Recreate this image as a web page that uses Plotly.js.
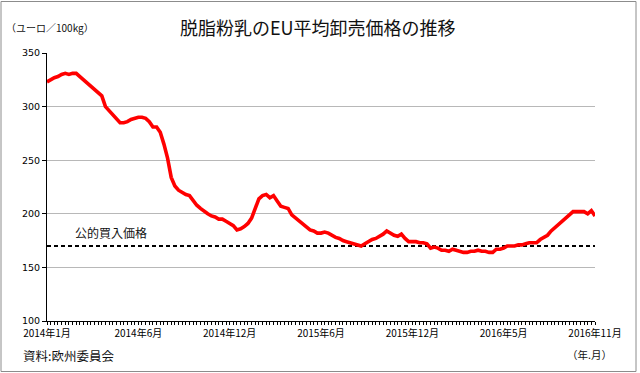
<!DOCTYPE html>
<html>
<head>
<meta charset="utf-8">
<script src="https://cdn.plot.ly/plotly-3.0.1.min.js"></script>
<style>
html,body{margin:0;padding:0;background:#fff;}
#chart{width:640px;height:373px;}
</style>
</head>
<body>
<div id="chart"></div>
<script>
// Weekly EU average wholesale price of skimmed milk powder (EUR/100kg), Jan 2014 - Nov 2016
const weekIndex = [];
const prices = [
  323,325,327,328,330,331,330,331,331,328,
  325,323,320,317,314,310,300,296,292,288,
  285,285,286,288,289,290,290,289,286,281,
  281,276,265,252,234,226,222,220,218,217,
  212,208,205,202,200,198,197,195,195,193,
  191,189,185,186,188,191,196,205,214,217,
  218,215,217,212,207,206,205,199,196,193,
  190,187,185,184,182,182,183,182,180,178,
  177,175,174,173,172,171,170,172,174,176,
  177,179,181,184,182,180,179,181,177,174,
  174,174,173,173,172,168,169,168,166,166,
  165,167,166,165,164,164,165,165,166,165,
  165,164,164,167,167,168,170,170,170,171,
  171,172,173,173,173,176,178,180,184,187,
  190,193,196,199,202,202,202,202,200,203,
  198
];
for (let i = 0; i < prices.length; i++) weekIndex.push(i);

const tickPositions = [0, 25, 50, 75, 100, 125, 150];
const tickLabels = ['2014年1月','2014年6月','2014年12月','2015年6月','2015年12月','2016年5月','2016年11月'];
const purchasePrice = 170;
const purchaseSpan = [0, 150];

const jp = '"Noto Sans CJK JP", "Noto Sans", sans-serif';

const traces = [
  {
    x: purchaseSpan, y: [purchasePrice, purchasePrice],
    type: 'scatter', mode: 'lines',
    line: {color: '#000', width: 2, dash: '4px,3px'},
    hoverinfo: 'skip', showlegend: false
  },
  {
    x: weekIndex, y: prices,
    type: 'scatter', mode: 'lines',
    line: {color: '#ff0000', width: 3.6},
    showlegend: false
  }
];

const L = 47, R = 595, T = 53, B = 321, W = 640, H = 373;
const px = v => (v - L) / (R - L);
const py = v => (B - v) / (B - T);

const layout = {
  width: W, height: H,
  margin: {l: L, r: W - R, t: T, b: H - B, pad: 0},
  paper_bgcolor: '#fff', plot_bgcolor: '#fff',
  showlegend: false,
  xaxis: {
    range: [0, 150],
    tickmode: 'array', tickvals: tickPositions, ticktext: tickLabels,
    ticks: 'outside', ticklen: 3, tickcolor: '#000', tickwidth: 1,
    showgrid: false, zeroline: false,
    showline: true, linecolor: '#000', linewidth: 1,
    tickfont: {family: jp, size: 10, color: '#000'},
    minor: {dtick: 1, tick0: 0, ticks: 'outside', ticklen: 3, tickcolor: '#000', tickwidth: 1, showgrid: false},
    fixedrange: true
  },
  yaxis: {
    range: [100, 350],
    tickvals: [100, 150, 200, 250, 300, 350],
    ticks: 'outside', ticklen: 4, tickcolor: '#000',
    showgrid: true, gridcolor: '#b8b8b8', gridwidth: 1,
    zeroline: false,
    showline: true, linecolor: '#000', linewidth: 1,
    tickfont: {family: '"DejaVu Sans", sans-serif', size: 9.5, color: '#000'},
    fixedrange: true
  },
  shapes: [
    {type: 'rect', xref: 'paper', yref: 'paper',
     x0: px(1), x1: px(636), y0: py(371.5), y1: py(1.5),
     line: {color: '#8c8c8c', width: 1}, fillcolor: 'rgba(0,0,0,0)'}
  ],
  annotations: [
    {text: '脱脂粉乳のEU平均卸売価格の推移', xref: 'paper', yref: 'paper',
     x: px(318), y: py(27), xanchor: 'center', yanchor: 'middle', showarrow: false,
     font: {family: jp, size: 18, color: '#111'}},
    {text: '（ユーロ／100kg）', xref: 'paper', yref: 'paper',
     x: px(4), y: py(27), xanchor: 'left', yanchor: 'middle', showarrow: false,
     font: {family: jp, size: 10, color: '#111'}},
    {text: '公的買入価格', xref: 'paper', yref: 'paper',
     x: px(73), y: py(232), xanchor: 'left', yanchor: 'middle', showarrow: false,
     font: {family: jp, size: 12, color: '#111'}},
    {text: '資料:欧州委員会', xref: 'paper', yref: 'paper',
     x: px(21), y: py(355), xanchor: 'left', yanchor: 'middle', showarrow: false,
     font: {family: jp, size: 12.5, color: '#111'}},
    {text: '（年.月）', xref: 'paper', yref: 'paper',
     x: px(614), y: py(354), xanchor: 'right', yanchor: 'middle', showarrow: false,
     font: {family: jp, size: 10.5, color: '#111'}}
  ]
};

Plotly.newPlot('chart', traces, layout, {displayModeBar: false, staticPlot: true});
</script>
</body>
</html>
